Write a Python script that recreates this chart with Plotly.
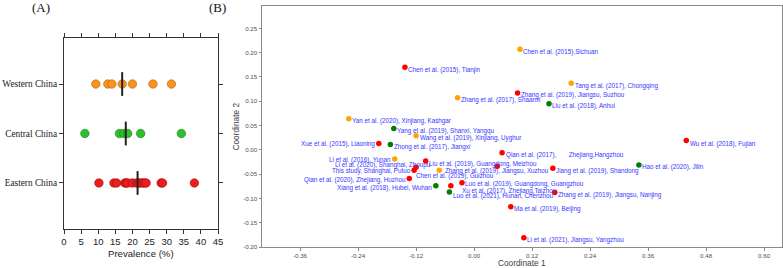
import numpy as np
import plotly.graph_objects as go

# ---------------- Panel A data ----------------
groups = ["Eastern China", "Central China", "Western China"]
eastern_vals = [10.2, 14.6, 15.4, 17.8, 18.2, 18.6, 20.0, 21.2, 21.8, 22.2, 23.0, 23.5, 24.0, 28.4, 28.8, 38.1]
central_vals = [6.1, 16.2, 17.5, 18.6, 22.4, 34.3]
western_vals = [9.3, 12.8, 14.0, 17.0, 20.0, 26.0, 31.4]
x_ticks_a = [0, 5, 10, 15, 20, 25, 30, 35, 40, 45]

# ---------------- Panel B data ----------------
study_labels = [
    "Chen et al. (2015),Sichuan", "Chen et al. (2015), Tianjin", "Tang et al. (2017), Chongqing",
    "Zhang et al. (2019), Jiangsu, Suzhou", "Zhang et al. (2017), Shaanxi", "Liu et al. (2018), Anhui",
    "Yan et al. (2020), Xinjiang, Kashgar", "Yang et al. (2019), Shanxi, Yangqu",
    "Wang et al. (2019), Xinjiang, Uyghur", "Wu et al. (2018), Fujian", "Xue et al. (2015), Liaoning",
    "Zhong et al. (2017), Jiangxi", "Qian et al. (2017),\u00a0\u00a0\u00a0\u00a0\u00a0\u00a0\u00a0Zhejiang,Hangzhou",
    "Hao et al. (2020), Jilin", "Li et al. (2016), Yunan", "Liu et al. (2019), Guangdong, Meizhou",
    "Jiang et al. (2019), Shandong", "Zhang et al. (2019), Jiangsu, Xuzhou", "Chen et al. (2019), Guizhou",
    "This study, Shanghai, Putuo", "Li et al. (2020), Shanghai, Zhoupu", "Qian et al. (2020), Zhejiang, Huzhou",
    "Xiang et al. (2018), Hubei, Wuhan", "Luo et al. (2019), Guangdong, Guangzhou",
    "Xu et al. (2017), Zhejiang,Taizhou", "Luo et al. (2021), Hunan, Chenzhou",
    "Zhang et al. (2019), Jiangsu, Nanjing", "Ma et al. (2019), Beijing", "Li et al. (2021), Jiangsu, Yangzhou",
]
coord1 = [0.095, -0.143, 0.201, 0.090, -0.034, 0.155, -0.259, -0.166, -0.120, 0.439, -0.197,
          -0.173, 0.058, 0.341, -0.164, -0.100, 0.163, 0.048, -0.072, -0.124, -0.120, -0.134,
          -0.079, -0.025, -0.048, -0.051, 0.167, 0.076, 0.103]
coord2 = [0.207, 0.170, 0.137, 0.117, 0.107, 0.095, 0.064, 0.044, 0.029, 0.019, 0.013,
          0.011, -0.006, -0.031, -0.019, -0.023, -0.038, -0.034, -0.042, -0.042, -0.036, -0.059,
          -0.074, -0.068, -0.074, -0.087, -0.088, -0.117, -0.181]
region = ["W", "E", "W", "E", "W", "C", "W", "C", "W", "E", "E",
          "C", "E", "C", "W", "E", "E", "E", "W", "E", "E", "E",
          "C", "E", "E", "C", "E", "E", "E"]
x_ticks_b = [-0.36, -0.24, -0.12, 0.00, 0.12, 0.24, 0.36, 0.48, 0.60]
y_ticks_b = [-0.20, -0.15, -0.10, -0.05, 0.00, 0.05, 0.10, 0.15, 0.20, 0.25]

# label placement (style): anchor side, pixel shifts
label_anchor = ["left"] * len(study_labels)
label_dx = [1.5] * len(study_labels)
label_dy = [-2.5] * len(study_labels)
for i, (a, dx, dy) in {
    10: ("right", -1.5, 0), 14: ("right", -1.5, -1), 19: ("right", -1.5, -1),
    20: ("right", 17, 2), 21: ("right", -1.5, -2), 22: ("right", -1.5, -2),
    18: ("left", -25, -5.7), 17: ("left", -54.5, -5), 24: ("left", 9, -5),
    25: ("left", 2, -4), 23: ("left", 1.5, -1), 9: ("left", 1.5, -3.5),
}.items():
    label_anchor[i], label_dx[i], label_dy[i] = a, dx, dy

colors_a = {"Western China": "#f7931e", "Central China": "#2dbf2d", "Eastern China": "#ee1c1c"}
edges_a = {"Western China": "#b5660a", "Central China": "#1a7d1a", "Eastern China": "#a01010"}
colors_b = {"W": "#ffa500", "C": "#008000", "E": "#ff0000"}

fig = go.Figure()

# ---------------- Panel A ----------------
vals_by_group = {"Eastern China": eastern_vals, "Central China": central_vals, "Western China": western_vals}
for gi, g in enumerate(groups):
    v = vals_by_group[g]
    fig.add_trace(go.Scatter(
        x=v, y=[gi] * len(v), mode="markers", xaxis="x", yaxis="y",
        marker=dict(size=8.5, color=colors_a[g], line=dict(width=0.6, color=edges_a[g])),
        showlegend=False, hoverinfo="skip"))
    med = float(np.median(v))
    fig.add_trace(go.Scatter(
        x=[med, med], y=[gi - 0.24, gi + 0.24], mode="lines", xaxis="x", yaxis="y",
        line=dict(color="#222222", width=2), showlegend=False, hoverinfo="skip"))

# ---------------- Panel B ----------------
fig.add_trace(go.Scatter(
    x=coord1, y=coord2, mode="markers", xaxis="x2", yaxis="y2",
    marker=dict(size=5.5, color=[colors_b[r] for r in region]),
    showlegend=False, hoverinfo="skip"))

annotations = []
for i, t in enumerate(study_labels):
    annotations.append(dict(
        x=coord1[i], y=coord2[i], xref="x2", yref="y2", text=t, showarrow=False,
        xanchor=label_anchor[i], yanchor="middle", xshift=label_dx[i], yshift=label_dy[i],
        font=dict(family="Liberation Sans, Arial", size=6.3, color="#3535ff")))

W, H = 783, 268
sans = "Liberation Sans, Arial"
serif = "Liberation Serif, Times New Roman"
annotations += [
    dict(x=41 / W, y=1 - 7 / H, xref="paper", yref="paper", text="(A)", showarrow=False,
         xanchor="center", yanchor="middle", font=dict(family=serif, size=13, color="#111111")),
    dict(x=218 / W, y=1 - 7 / H, xref="paper", yref="paper", text="(B)", showarrow=False,
         xanchor="center", yanchor="middle", font=dict(family=serif, size=13, color="#111111")),
    dict(x=141 / W, y=1 - 253 / H, xref="paper", yref="paper", text="Prevalence (%)", showarrow=False,
         xanchor="center", yanchor="middle", font=dict(family=sans, size=9.6, color="#222222")),
    dict(x=522 / W, y=1 - 262.5 / H, xref="paper", yref="paper", text="Coordinate 1", showarrow=False,
         xanchor="center", yanchor="middle", font=dict(family=sans, size=8.3, color="#404040")),
    dict(x=236 / W, y=1 - 126.5 / H, xref="paper", yref="paper", text="Coordinate 2", showarrow=False,
         textangle=-90, xanchor="center", yanchor="middle", font=dict(family=sans, size=8.3, color="#404040")),
]

fig.update_layout(
    width=W, height=H, margin=dict(l=0, r=0, t=0, b=0, autoexpand=False),
    paper_bgcolor="white", plot_bgcolor="white",
    annotations=annotations,
    xaxis=dict(domain=[64 / W, 218 / W], range=[0, 45], tickvals=x_ticks_a, automargin=False,
               ticktext=[str(v) for v in x_ticks_a], showgrid=False, zeroline=False,
               showline=True, linecolor="#333333", linewidth=1, mirror="ticks",
               ticks="outside", ticklen=4, tickcolor="#333333",
               tickfont=dict(family=sans, size=9.5, color="#222222")),
    yaxis=dict(domain=[(H - 229) / H, (H - 38) / H], range=[-0.93, 2.93], tickvals=[0, 1, 2],
               ticktext=groups, showgrid=False, zeroline=False, automargin=False,
               showline=True, linecolor="#333333", linewidth=1, mirror="ticks",
               ticks="outside", ticklen=4, tickcolor="#333333",
               tickfont=dict(family=serif, size=9.3, color="#222222")),
    xaxis2=dict(domain=[262 / W, 782 / W], range=[-0.4386, 0.637], anchor="y2", automargin=False,
                tickvals=x_ticks_b, ticktext=[f"{v:.2f}" for v in x_ticks_b],
                showgrid=False, zeroline=False, showline=True, linecolor="#8a8a8a", linewidth=1,
                mirror=True, ticks="outside", ticklen=2.5, tickcolor="#8a8a8a",
                tickfont=dict(family=sans, size=6.2, color="#505050")),
    yaxis2=dict(domain=[(H - 247) / H, (H - 6) / H], range=[-0.2, 0.296], anchor="x2", automargin=False,
                tickvals=y_ticks_b, ticktext=[f"{v:.2f}" for v in y_ticks_b],
                showgrid=False, zeroline=False, showline=True, linecolor="#8a8a8a", linewidth=1,
                mirror=True, ticks="outside", ticklen=2.5, tickcolor="#8a8a8a",
                tickfont=dict(family=sans, size=6.2, color="#505050")),
)

fig.write_html("out.html", config={"displayModeBar": False},
               post_script="document.body.style.margin='0';document.body.style.overflow='hidden';")
